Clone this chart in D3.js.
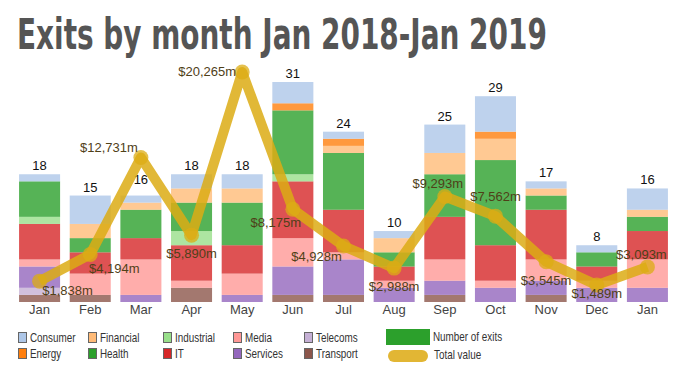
<!DOCTYPE html>
<html>
<head>
<meta charset="utf-8">
<script src="https://cdn.jsdelivr.net/npm/d3@7"></script>
<style>
    body { margin: 0; background: #fff; }
    svg { display: block; }
    .chart__title { font-family: "DejaVu Sans Condensed", "Liberation Sans", sans-serif; font-weight: bold; fill: #555; }
    .chart__count { font-family: "Liberation Sans", Arial, sans-serif; font-size: 13px; fill: #111; }
    .chart__value { font-family: "Liberation Sans", Arial, sans-serif; font-size: 13px; fill: #4f4018; }
    .chart__month { font-family: "Liberation Sans", Arial, sans-serif; font-size: 13px; fill: #444; }
    .legend__text { font-family: "Liberation Sans", Arial, sans-serif; font-size: 12.5px; fill: #333; }
</style>
</head>
<body>
<div class="chart"></div>
<script>
var months = ['Jan', 'Feb', 'Mar', 'Apr', 'May', 'Jun', 'Jul', 'Aug', 'Sep', 'Oct', 'Nov', 'Dec', 'Jan'];

// number of exits shown above each bar
var exitCounts = [18, 15, 16, 18, 18, 31, 24, 10, 25, 29, 17, 8, 16];

// total value of exits, $m
var totalValues = [1838, 4194, 12731, 5890, 20265, 8175, 4928, 2988, 9293, 7562, 3545, 1489, 3093];

// exits per sector, stacked bottom to top
var sectors = ['Transport', 'Telecoms', 'Services', 'Media', 'IT', 'Industrial', 'Health', 'Financial', 'Energy', 'Consumer'];
var transport  = [1, 1, 0, 2, 0, 1, 1, 0, 1, 0, 1, 0, 0];
var telecoms   = [1, 0, 0, 0, 0, 0, 0, 0, 0, 0, 0, 0, 0];
var services   = [3, 0, 1, 0, 1, 4, 5, 2, 2, 2, 2, 2, 2];
var media      = [1, 3, 5, 1, 3, 4, 1, 1, 3, 1, 3, 1, 4];
var it         = [5, 3, 3, 5, 4, 8, 6, 2, 6, 5, 7, 2, 4];
var industrial = [1, 0, 0, 2, 0, 1, 0, 0, 0, 0, 0, 0, 0];
var health     = [5, 2, 4, 4, 6, 9, 8, 2, 6, 12, 2, 2, 2];
var financial  = [0, 2, 1, 2, 2, 0, 1, 2, 3, 3, 1, 0, 1];
var energy     = [0, 0, 0, 0, 0, 1, 1, 0, 0, 1, 0, 0, 0];
var consumer   = [1, 4, 1, 2, 2, 3, 1, 1, 4, 5, 1, 1, 3];

var legendOrder = ['Consumer', 'Energy', 'Financial', 'Health', 'Industrial', 'IT', 'Media', 'Services', 'Telecoms', 'Transport'];

(function () {
    var colors = {
        Consumer: '#aec7e8', Energy: '#ff7f0e', Financial: '#ffbb78', Health: '#2ca02c',
        Industrial: '#98df8a', IT: '#d62728', Media: '#ff9896', Services: '#9467bd',
        Telecoms: '#c5b0d5', Transport: '#8c564b'
    };
    var lineColor = '#dcac14';

    // hand placed value labels: offset of text centre / baseline from the marker
    var labelOffsets = [[28, 14], [24, 19], [-32, -6], [0, 23], [-35, 4], [-17, 18], [-27, 15],
                        [0, 23], [-7, -9], [0, -15], [0, 23], [0, 13], [-6, -8]];

    var options = { width: 689, height: 388, baseline: 302, left: 14, right: 673 };

    var series = [transport, telecoms, services, media, it, industrial, health, financial, energy, consumer];
    var table = months.map(function (m, i) {
        var row = { index: i };
        sectors.forEach(function (s, k) { row[s] = series[k][i]; });
        return row;
    });

    var svg = d3.select('.chart')
        .append('svg')
        .attr('width', options.width)
        .attr('height', options.height);

    // title squeezed horizontally to the reference width
    var title = svg.append('text')
        .classed('chart__title', true)
        .attr('font-size', 43)
        .text('Exits by month Jan 2018-Jan 2019');
    var titleWidth = title.node().getComputedTextLength();
    title.attr('transform', 'translate(17,49) scale(' + (530 / titleWidth) + ',1)');

    var x = d3.scaleBand()
        .domain(d3.range(months.length))
        .range([options.left, options.right])
        .paddingInner(0.19)
        .paddingOuter(0.1);

    var y = d3.scaleLinear()
        .domain([0, 31])
        .range([options.baseline, 82]);

    var yValue = d3.scaleLinear()
        .domain([0, 20265])
        .range([options.baseline, 72]);

    var stack = d3.stack().keys(sectors)(table);

    svg.append('g')
        .selectAll('g')
        .data(stack)
        .join('g')
        .attr('fill', function (d) { return colors[d.key]; })
        .attr('fill-opacity', 0.8)
        .selectAll('rect')
        .data(function (d) { return d; })
        .join('rect')
        .attr('x', function (d) { return x(d.data.index); })
        .attr('y', function (d) { return y(d[1]); })
        .attr('height', function (d) { return y(d[0]) - y(d[1]); })
        .attr('width', x.bandwidth());

    svg.append('g')
        .selectAll('text')
        .data(exitCounts)
        .join('text')
        .classed('chart__count', true)
        .attr('text-anchor', 'middle')
        .attr('x', function (d, i) { return x(i) + x.bandwidth() / 2; })
        .attr('y', function (d) { return y(d) - 4; })
        .text(function (d) { return d; });

    var xAxis = svg.append('g')
        .attr('transform', 'translate(0,' + options.baseline + ')')
        .call(d3.axisBottom(x).tickSize(0).tickPadding(3).tickFormat(function (i) { return months[i]; }));
    xAxis.select('.domain').remove();
    xAxis.attr('font-size', null).attr('font-family', null);
    xAxis.selectAll('text').attr('class', 'chart__month').attr('fill', null);

    var cx = function (d, i) { return x(i) + x.bandwidth() / 2; };

    var line = d3.line()
        .x(cx)
        .y(function (d) { return yValue(d); });

    svg.append('path')
        .datum(totalValues)
        .attr('d', line)
        .attr('fill', 'none')
        .attr('stroke', lineColor)
        .attr('stroke-opacity', 0.85)
        .attr('stroke-width', 10)
        .attr('stroke-linejoin', 'round');

    svg.append('g')
        .selectAll('circle')
        .data(totalValues)
        .join('circle')
        .attr('cx', cx)
        .attr('cy', function (d) { return yValue(d); })
        .attr('r', 7.5)
        .attr('fill', lineColor)
        .attr('fill-opacity', 0.75);

    svg.append('g')
        .selectAll('text')
        .data(totalValues)
        .join('text')
        .classed('chart__value', true)
        .attr('text-anchor', 'middle')
        .attr('x', function (d, i) { return cx(d, i) + labelOffsets[i][0]; })
        .attr('y', function (d, i) { return yValue(d) + labelOffsets[i][1]; })
        .text(function (d) { return '$' + d3.format(',')(d) + 'm'; });

    // legend, two rows of five columns; text squeezed to look like a narrow face
    var colX = [18, 88, 163, 233, 304];
    var legend = svg.append('g');
    var legendText = function (g, tx, ty, label) {
        g.append('text')
            .classed('legend__text', true)
            .attr('transform', 'translate(' + tx + ',' + ty + ') scale(0.79,1)')
            .text(label);
    };

    legendOrder.forEach(function (name, i) {
        var col = Math.floor(i / 2), row = i % 2;
        var item = legend.append('g')
            .attr('transform', 'translate(' + colX[col] + ',' + (332 + row * 16) + ')');
        item.append('rect')
            .attr('x', 0.5).attr('y', 0.5)
            .attr('width', 8).attr('height', 10)
            .attr('fill', colors[name])
            .attr('stroke', '#666');
        legendText(item, 12, 9.5, name);
    });

    legend.append('rect')
        .attr('x', 386).attr('y', 329)
        .attr('width', 44).attr('height', 16)
        .attr('fill', '#2ca02c');
    legendText(legend, 433, 341, 'Number of exits');

    legend.append('rect')
        .attr('x', 388).attr('y', 350)
        .attr('width', 40).attr('height', 12)
        .attr('rx', 6)
        .attr('fill', '#e2b634');
    legendText(legend, 434, 359, 'Total value');
})();
</script>
</body>
</html>
